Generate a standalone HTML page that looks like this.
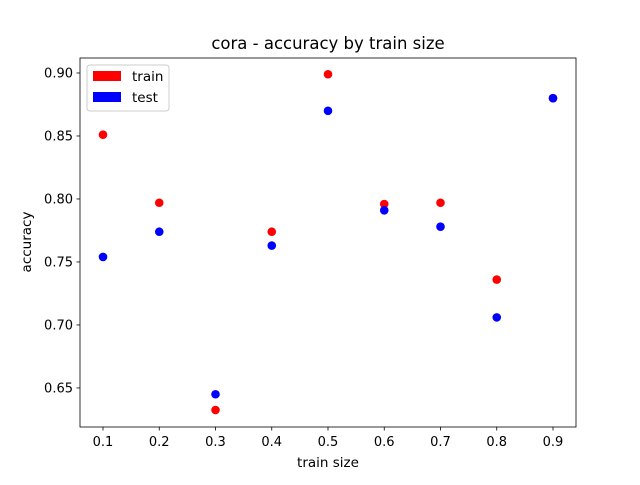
<!DOCTYPE html>
<html><head><meta charset="utf-8"><style>
body{margin:0;background:#fff}
svg text{font-family:"DejaVu Sans","Liberation Sans",sans-serif;fill:#000}
</style></head><body>
<svg id="chart" width="640" height="480" xmlns="http://www.w3.org/2000/svg">
<rect width="640" height="480" fill="#fff"/>
<text x="328" y="49" font-size="16.5" text-anchor="middle">cora - accuracy by train size</text>
<g id="plot"></g>
<text x="328" y="467" font-size="13.5" text-anchor="middle">train size</text>
<text x="0" y="0" font-size="13.5" text-anchor="middle" transform="translate(31,242) rotate(-90)">accuracy</text>
<g>
<rect x="87" y="65" width="82" height="46" rx="3" fill="#fff" stroke="#ccc" fill-opacity="0.8"/>
<rect x="93" y="71" width="28" height="10" fill="red"/>
<text x="132" y="81" font-size="13.5">train</text>
<rect x="93" y="92" width="28" height="10" fill="blue"/>
<text x="132" y="102" font-size="13.5">test</text>
</g>
</svg>
<script>
const categories=[0.1,0.2,0.3,0.4,0.5,0.6,0.7,0.8,0.9];
const trainValues=[0.851,0.797,0.6325,0.774,0.899,0.796,0.797,0.736,0.880];
const testValues=[0.754,0.774,0.645,0.763,0.870,0.791,0.778,0.706,0.880];
const xTicks=[0.1,0.2,0.3,0.4,0.5,0.6,0.7,0.8,0.9];
const yTicks=[0.65,0.70,0.75,0.80,0.85,0.90];
const L=80,R=576,T=58,B=427;
const xMin=0.0591,xMax=0.9409,yMin=0.619,yMax=0.9119;
const xs=v=>L+(v-xMin)/(xMax-xMin)*(R-L);
const ys=v=>B-(v-yMin)/(yMax-yMin)*(B-T);
const NS="http://www.w3.org/2000/svg";
const g=document.getElementById('plot');
function mk(t,a){const e=document.createElementNS(NS,t);for(const k in a)e.setAttribute(k,a[k]);g.appendChild(e);return e;}
xTicks.forEach(v=>{
 const x=xs(v);
 const l=mk('line',{x1:x,x2:x,y1:B,y2:B+3.5,stroke:'#000','stroke-width':0.8});
 
 
 const t=mk('text',{x:x,y:B+19,'font-size':13,'text-anchor':'middle'});t.textContent=v.toFixed(1);
 
 
});
yTicks.forEach(v=>{
 const y=ys(v);
 const l=mk('line',{x1:L-3.5,x2:L,y1:y,y2:y,stroke:'#000','stroke-width':0.8});
 
 
 const t=mk('text',{x:L-7,y:y+4.5,'font-size':13,'text-anchor':'end'});t.textContent=v.toFixed(2);
 
 
});
categories.forEach((c,i)=>{
 const p=mk('circle',{cx:xs(c),cy:ys(trainValues[i]),r:4.3,fill:'red'});
 
 
});
categories.forEach((c,i)=>{
 const p=mk('circle',{cx:xs(c),cy:ys(testValues[i]),r:4.3,fill:'blue'});
 
 
});
const f=mk('rect',{x:L,y:T,width:R-L,height:B-T,fill:'none',stroke:'#000','stroke-width':0.8});


</script>
</body></html>
